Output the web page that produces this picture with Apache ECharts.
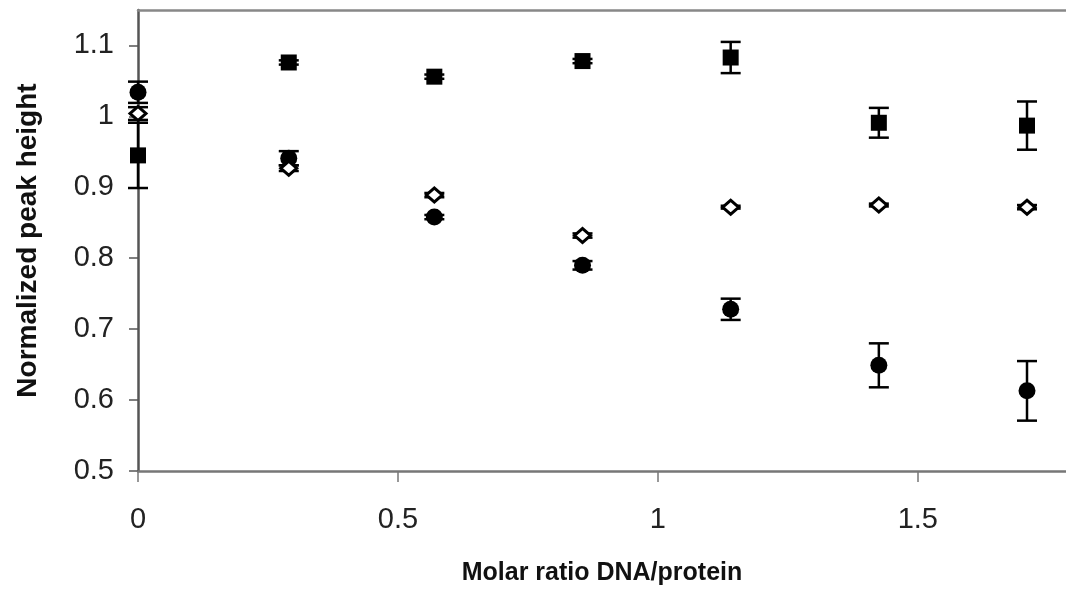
<!DOCTYPE html>
<html>
<head>
<meta charset="utf-8">
<script src="https://cdn.jsdelivr.net/npm/echarts@6/dist/echarts.min.js"></script>
<style>
  html, body { margin: 0; padding: 0; background: #fff; }
  #chart { width: 1066px; height: 591px; }
</style>
</head>
<body>
<div id="chart"></div>
<script>
// molar ratio DNA/protein
const ratios = [0, 0.29, 0.57, 0.855, 1.14, 1.425, 1.71];

// filled squares
const squareY   = [0.945, 1.076, 1.056, 1.078, 1.083, 0.991, 0.987];
const squareErr = [0.046, 0.003, 0.003, 0.003, 0.022, 0.021, 0.034];

// filled circles
const circleY   = [1.034, 0.941, 0.858, 0.790, 0.728, 0.649, 0.613];
const circleErr = [0.015, 0.010, 0.003, 0.006, 0.015, 0.031, 0.042];

// open diamonds
const diamondY   = [1.004, 0.927, 0.889, 0.832, 0.872, 0.875, 0.872];
const diamondErr = [0.009, 0.004, 0.003, 0.003, 0.002, 0.002, 0.003];

const xTicks = [0, 0.5, 1, 1.5];
const yTicks = [0.5, 0.6, 0.7, 0.8, 0.9, 1, 1.1];

function points(ys) {
    return ratios.map((x, i) => [x, ys[i]]);
}
function bars(ys, errs) {
    return ratios.map((x, i) => [x, ys[i] - errs[i], ys[i] + errs[i]]);
}

// error bar with caps
function renderErr(params, api) {
    const x = api.value(0);
    const lo = api.coord([x, api.value(1)]);
    const hi = api.coord([x, api.value(2)]);
    const hw = 10;
    const style = { stroke: '#000', lineWidth: 2.5 };
    return {
        type: 'group',
        children: [
            { type: 'line', shape: { x1: lo[0], y1: lo[1], x2: hi[0], y2: hi[1] }, style: style },
            { type: 'line', shape: { x1: lo[0] - hw, y1: lo[1], x2: lo[0] + hw, y2: lo[1] }, style: style },
            { type: 'line', shape: { x1: hi[0] - hw, y1: hi[1], x2: hi[0] + hw, y2: hi[1] }, style: style }
        ]
    };
}

const labelStyle = { fontFamily: 'Liberation Sans', fontSize: 29, color: '#222' };

const chart = echarts.init(document.getElementById('chart'));
chart.setOption({
    animation: false,
    backgroundColor: '#fff',
    grid: { left: 138, right: 0, top: 10, bottom: 120 },
    xAxis: [{
        type: 'value',
        min: 0, max: 1.785, interval: 0.5,
        name: 'Molar ratio DNA/protein',
        nameLocation: 'middle',
        nameGap: 90,
        nameTextStyle: { fontFamily: 'Liberation Sans', fontSize: 25, fontWeight: 'bold', color: '#111' },
        axisLine: { lineStyle: { color: '#777', width: 2.5 } },
        axisTick: { length: 11, customValues: xTicks, lineStyle: { color: '#777', width: 1.5 } },
        axisLabel: Object.assign({ margin: 34, customValues: xTicks }, labelStyle),
        splitLine: { show: false }
    }, {
        // top frame line
        type: 'value', position: 'top',
        min: 0, max: 1.785,
        axisLine: { show: true, lineStyle: { color: '#888', width: 2.5 } },
        axisTick: { show: false },
        axisLabel: { show: false },
        splitLine: { show: false }
    }],
    yAxis: {
        type: 'value',
        min: 0.5, max: 1.15, interval: 0.1,
        name: 'Normalized peak height',
        nameLocation: 'middle',
        nameGap: 96,
        nameTextStyle: { fontFamily: 'Liberation Sans', fontSize: 28, fontWeight: 'bold', color: '#111' },
        axisLine: { show: true, lineStyle: { color: '#555', width: 2.5 } },
        axisTick: { show: true, length: 9, customValues: yTicks, lineStyle: { color: '#555', width: 1.5 } },
        axisLabel: Object.assign({ margin: 24, customValues: yTicks }, labelStyle),
        splitLine: { show: false }
    },
    series: [
        { type: 'custom', renderItem: renderErr, data: bars(squareY, squareErr), z: 1 },
        { type: 'custom', renderItem: renderErr, data: bars(circleY, circleErr), z: 1 },
        { type: 'custom', renderItem: renderErr, data: bars(diamondY, diamondErr), z: 1 },
        {
            type: 'scatter', symbol: 'rect', symbolSize: 16, z: 3,
            itemStyle: { color: '#000', opacity: 1 },
            data: points(squareY)
        },
        {
            type: 'scatter', symbol: 'circle', symbolSize: 17, z: 3,
            itemStyle: { color: '#000', opacity: 1 },
            data: points(circleY)
        },
        {
            type: 'scatter', symbol: 'diamond', symbolSize: [16, 14], z: 4,
            itemStyle: { color: '#fff', borderColor: '#000', borderWidth: 3, opacity: 1 },
            data: points(diamondY)
        }
    ]
});
</script>
</body>
</html>
